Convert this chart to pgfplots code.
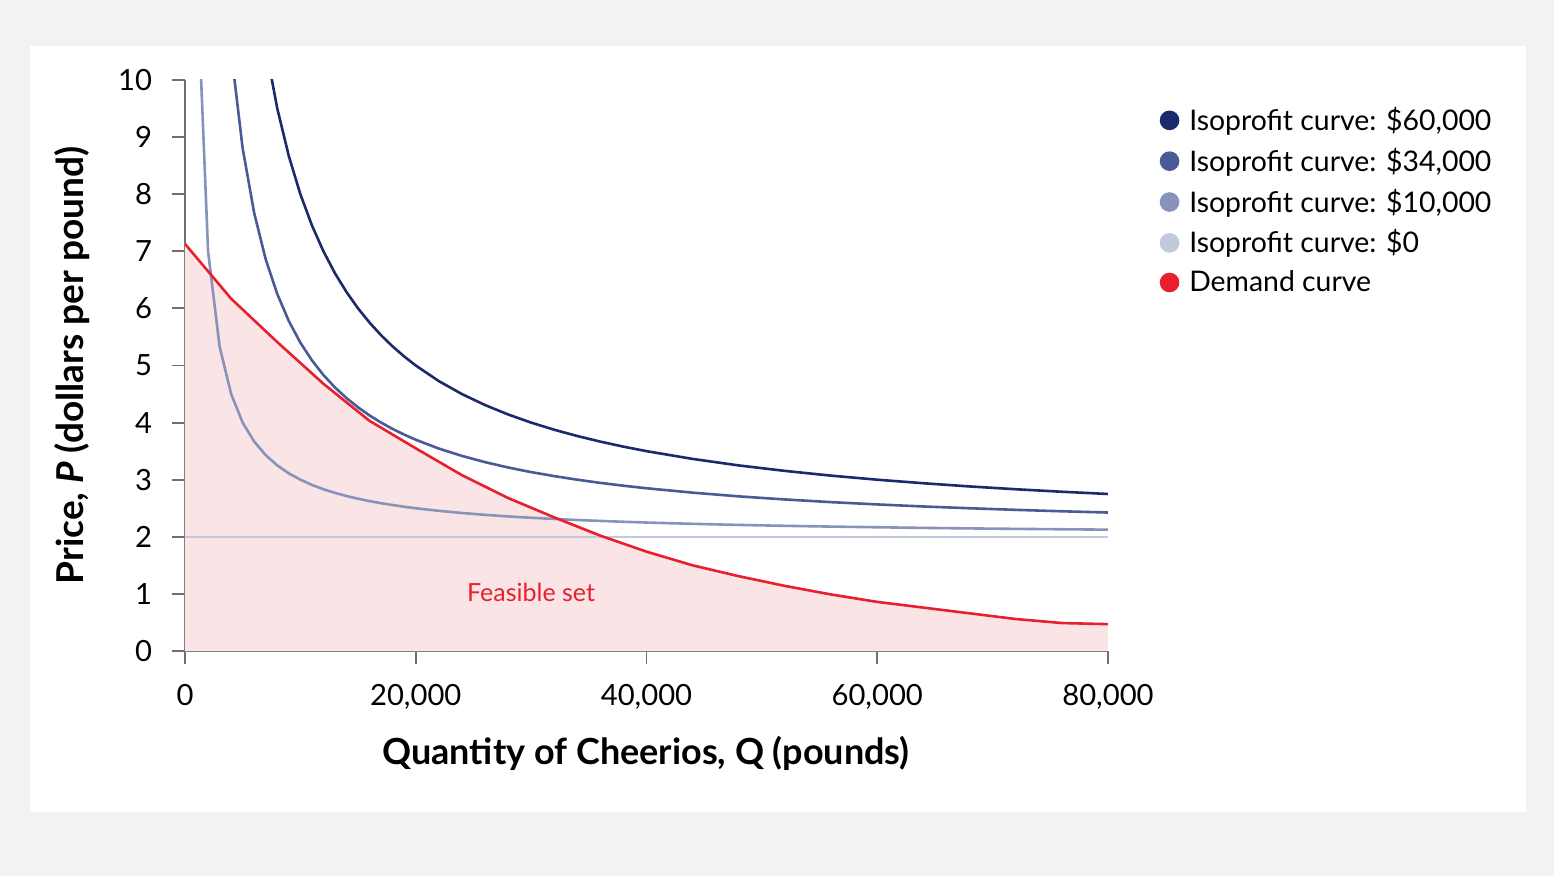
\documentclass[border=0pt]{standalone}
\usepackage{fontspec}
\setmainfont{Lato}
\usepackage{pgfplots}
\pgfplotsset{compat=1.18}
\usepackage{pgfplotstable}
\definecolor{isoA}{HTML}{1B2A6B}
\definecolor{isoB}{HTML}{4A5A94}
\definecolor{isoC}{HTML}{8893BA}
\definecolor{isoD}{HTML}{C3C9DD}
\definecolor{demandc}{HTML}{E8202E}
\definecolor{feasible}{HTML}{FBE4E6}
\definecolor{bgray}{HTML}{F2F2F2}
\definecolor{axgray}{HTML}{707070}

\pgfplotstableread{
Q P
0 7.13
4000 6.17
8000 5.41
12000 4.68
16000 4.03
20000 3.55
24000 3.08
28000 2.68
32000 2.34
36000 2.02
40000 1.74
44000 1.50
48000 1.31
52000 1.14
56000 0.99
60000 0.86
64000 0.76
68000 0.66
72000 0.56
76000 0.49
80000 0.47
}\demand

\pgfplotstableread{
Q P
7000 10.571
8000 9.5
9000 8.667
10000 8
11000 7.455
12000 7
13000 6.615
14000 6.286
15000 6
16000 5.75
17000 5.529
18000 5.333
19000 5.158
20000 5
22000 4.727
24000 4.5
26000 4.308
28000 4.143
30000 4
32000 3.875
34000 3.765
36000 3.667
38000 3.579
40000 3.5
44000 3.364
48000 3.25
52000 3.154
56000 3.071
60000 3
64000 2.938
68000 2.882
72000 2.833
76000 2.789
80000 2.75
}\isoSixty

\pgfplotstableread{
Q P
4000 10.5
5000 8.8
6000 7.667
7000 6.857
8000 6.25
9000 5.778
10000 5.4
11000 5.091
12000 4.833
13000 4.615
14000 4.429
15000 4.267
16000 4.125
17000 4
18000 3.889
19000 3.789
20000 3.7
22000 3.545
24000 3.417
26000 3.308
28000 3.214
30000 3.133
32000 3.063
34000 3
36000 2.944
38000 2.895
40000 2.85
44000 2.773
48000 2.708
52000 2.654
56000 2.607
60000 2.567
64000 2.531
68000 2.5
72000 2.472
76000 2.447
80000 2.425
}\isoThirtyfour

\pgfplotstableread{
Q P
1000 12
2000 7
3000 5.333
4000 4.5
5000 4
6000 3.667
7000 3.429
8000 3.25
9000 3.111
10000 3
11000 2.909
12000 2.833
13000 2.769
14000 2.714
15000 2.667
16000 2.625
17000 2.588
18000 2.556
19000 2.526
20000 2.5
22000 2.455
24000 2.417
26000 2.385
28000 2.357
30000 2.333
32000 2.313
34000 2.294
36000 2.278
38000 2.263
40000 2.25
44000 2.227
48000 2.208
52000 2.192
56000 2.179
60000 2.167
64000 2.156
68000 2.147
72000 2.139
76000 2.132
80000 2.125
}\isoTen

\pgfplotstableread{
Q P
0 2
80000 2
}\isoZero

\begin{document}
\begin{tikzpicture}
\fill[bgray] (-92.5bp,-112.5bp) rectangle (684.5bp,325.5bp);
\fill[white] (-77.5bp,-80.5bp) rectangle (670.5bp,302.5bp);
\begin{axis}[
  at={(0,0)}, anchor=south west,
  scale only axis, width=461.5bp, height=285.5bp,
  xmin=0, xmax=80000, ymin=0, ymax=10,
  axis x line*=bottom, axis y line*=left,
  axis line style={axgray, line width=0.9bp},
  tick align=outside, major tick length=6.5bp,
  tick style={axgray, line width=0.9bp},
  xtick={0,20000,40000,60000,80000},
  ytick={0,1,2,3,4,5,6,7,8,9,10},
  scaled x ticks=false,
  ticklabel style={font=\fontsize{14.6bp}{17bp}\selectfont, text=black},
  xticklabel style={yshift=-6.5bp},
  yticklabel style={xshift=-6.5bp},
  xlabel={Quantity of Cheerios, Q (pounds)},
  ylabel={Price, \textit{P} (dollars per pound)},
  every axis x label/.style={at={(axis description cs:0.4995,-0.1786)}, anchor=center, font=\fontsize{18bp}{21bp}\selectfont\bfseries},
  every axis y label/.style={at={(axis description cs:-0.1224,0.5)}, rotate=90, anchor=center, font=\fontsize{18.5bp}{22bp}\selectfont\bfseries},
  legend cell align=left,
  legend image code/.code={\fill[#1] (0bp,0bp) circle (4.25bp); \path (7.2bp,0bp);},
  legend style={at={(axis description cs:1.0492,0.967)}, anchor=north west, draw=none, fill=none,
    font=\fontsize{14.2bp}{16.5bp}\selectfont, row sep=3.3bp},
  /pgf/number format/assume math mode=true,
  /pgf/number format/1000 sep={,},
]
\addplot[fill=feasible, draw=none, forget plot] table[x=Q, y=P] {\demand} \closedcycle;
\addplot[isoA, line width=1.3bp] table[x=Q, y=P] {\isoSixty};
\addlegendentry{Isoprofit curve: \$60,000}
\addplot[isoB, line width=1.3bp] table[x=Q, y=P] {\isoThirtyfour};
\addlegendentry{Isoprofit curve: \$34,000}
\addplot[isoC, line width=1.3bp] table[x=Q, y=P] {\isoTen};
\addlegendentry{Isoprofit curve: \$10,000}
\addplot[isoD, line width=1.3bp] table[x=Q, y=P] {\isoZero};
\addlegendentry{Isoprofit curve: \$0}
\addplot[demandc, line width=1.3bp] table[x=Q, y=P] {\demand};
\addlegendentry{Demand curve}
\node[text=demandc, font=\fontsize{12.5bp}{15bp}\selectfont] at (axis cs:30000,1.03) {Feasible set};
\end{axis}
\end{tikzpicture}
\end{document}
